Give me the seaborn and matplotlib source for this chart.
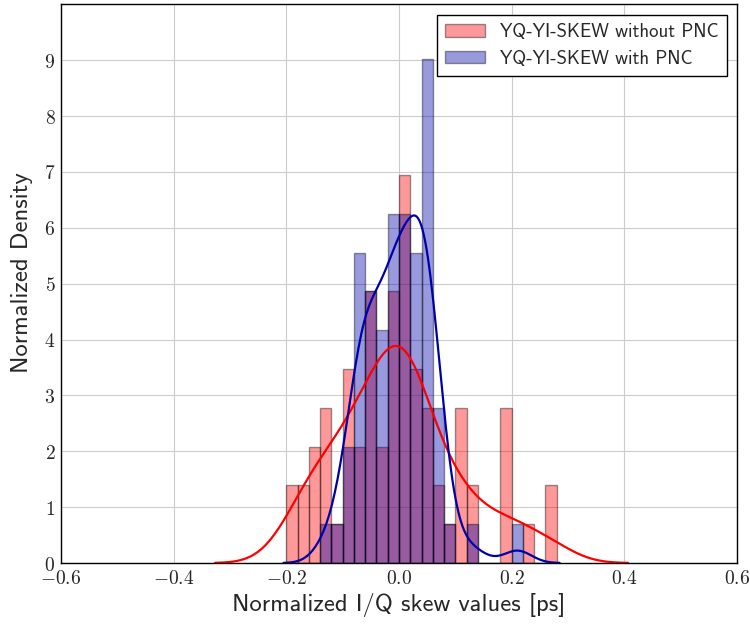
import numpy as np
import matplotlib
matplotlib.use("Agg")
import matplotlib.pyplot as plt
from matplotlib.patches import Patch
from matplotlib.ticker import FuncFormatter
import seaborn as sns

# Histogram bin edges (width 0.02) and per-bin sample counts
bin_edges = np.round(np.arange(-0.20, 0.2801, 0.02), 2)
counts_without_pnc = [2, 2, 3, 4, 1, 5, 3, 7, 3, 7, 10, 5,
                      4, 2, 1, 4, 2, 0, 0, 4, 0, 1, 0, 2]
counts_with_pnc = [0, 0, 0, 1, 1, 3, 8, 7, 6, 9, 9, 8,
                   13, 4, 1, 0, 1, 0, 0, 0, 1, 0, 0, 0]
labels = ["YQ-YI-SKEW without PNC", "YQ-YI-SKEW with PNC"]
x_ticks = [-0.6, -0.4, -0.2, 0.0, 0.2, 0.4, 0.6]
y_ticks = list(range(10))

centers = bin_edges[:-1] + 0.01
skew_without = np.repeat(centers, counts_without_pnc)
skew_with = np.repeat(centers, counts_with_pnc)

sns.set_style("whitegrid")
plt.rcParams["mathtext.fontset"] = "cm"
plt.rcParams["axes.edgecolor"] = "black"
plt.rcParams["axes.linewidth"] = 1.0
plt.rcParams["grid.color"] = "#cccccc"

fig, ax = plt.subplots(figsize=(7.5, 6.26), dpi=100)
fig.subplots_adjust(left=0.0813, right=0.9827, top=0.993, bottom=0.1006)

red = "#ff0000"
blue = "#0000aa"
edge = (0, 0, 0, 0.4)

sns.histplot(skew_without, bins=bin_edges, stat="density", color=red,
             alpha=0.4, edgecolor=edge, linewidth=1.0, ax=ax)
sns.kdeplot(skew_without, color=red, lw=1.6, cut=3, ax=ax)
sns.histplot(skew_with, bins=bin_edges, stat="density", color=blue,
             alpha=0.4, edgecolor=edge, linewidth=1.0, ax=ax)
sns.kdeplot(skew_with, color=blue, lw=1.6, cut=3, ax=ax)

ax.set_xlim(-0.6, 0.6)
ax.set_ylim(0, 10)
ax.set_xticks(x_ticks)
ax.set_yticks(y_ticks)
ax.xaxis.set_major_formatter(FuncFormatter(lambda v, p: r"$%.1f$" % v))
ax.yaxis.set_major_formatter(FuncFormatter(lambda v, p: r"$%d$" % v))
ax.tick_params(labelsize=14, length=0, pad=4)

ax.set_xlabel("Normalized I/Q skew values [ps]", family="cmss10", fontsize=17.7)
ax.set_ylabel("Normalized Density", family="cmss10", fontsize=17.7)
ax.yaxis.set_label_coords(-0.042, 0.52)

handles = [Patch(facecolor=red, alpha=0.4, edgecolor="black"),
           Patch(facecolor=blue, alpha=0.4, edgecolor="black")]
leg = ax.legend(handles, labels, loc="upper right", fancybox=False,
                framealpha=1, edgecolor="black", handlelength=2.1,
                handleheight=0.65, labelspacing=0.45, borderpad=0.45,
                handletextpad=0.8, borderaxespad=0.55,
                prop={"family": "cmss10", "size": 13.5})
leg.get_frame().set_linewidth(1.0)

fig.savefig("out.png", dpi=100)
